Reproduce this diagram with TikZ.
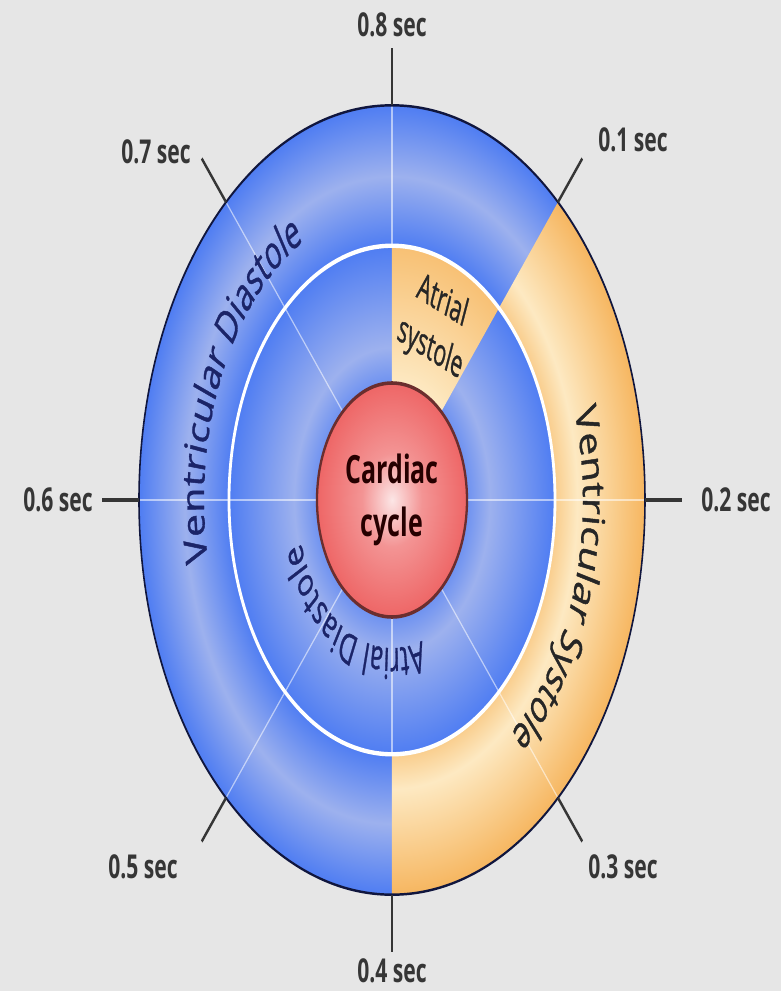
\documentclass[tikz,border=0pt]{standalone}
\usepackage{fontspec}
\setmainfont{Open Sans}
\newfontfamily\ringfam{Open Sans}[FakeStretch=0.86, FakeBold=1]
\usetikzlibrary{decorations.text}
\definecolor{cBlue}{HTML}{4F7DF2}
\definecolor{cBlueLight}{HTML}{9DB1EE}
\definecolor{cOrange}{HTML}{F6B660}
\definecolor{cOrangeLight}{HTML}{FDE9C2}
\definecolor{cRed}{HTML}{EE6666}
\definecolor{cRedLight}{HTML}{FCE6E6}
\definecolor{cNavy}{HTML}{1B2468}
\definecolor{cBg}{HTML}{E6E6E6}
\definecolor{cInk}{HTML}{363636}
\pgfdeclareradialshading{outerblue}{\pgfpointorigin}{color(0bp)=(cBlue); color(16.1bp)=(cBlue); color(20.5bp)=(cBlueLight); color(25bp)=(cBlue); color(50bp)=(cBlue)}
\pgfdeclareradialshading{outerorange}{\pgfpointorigin}{color(0bp)=(cOrange!55!cOrangeLight); color(16.1bp)=(cOrange!55!cOrangeLight); color(18.3bp)=(cOrangeLight); color(25bp)=(cOrange); color(50bp)=(cOrange)}
\pgfdeclareradialshading{innerblue}{\pgfpointorigin}{color(0bp)=(cBlue!60!cBlueLight); color(11.5bp)=(cBlue!60!cBlueLight); color(15bp)=(cBlueLight); color(25bp)=(cBlue); color(50bp)=(cBlue)}
\pgfdeclareradialshading{innerorange}{\pgfpointorigin}{color(0bp)=(cOrangeLight); color(11.5bp)=(cOrangeLight); color(25bp)=(cOrange!80!cOrangeLight); color(50bp)=(cOrange)}
\pgfdeclareradialshading{cardiac}{\pgfpointorigin}{color(0bp)=(cRedLight); color(10bp)=(cRed!70!white); color(25bp)=(cRed); color(50bp)=(cRed)}
\newcommand\ringfont{\ringfam\fontsize{17.5}{20}\selectfont}
\newcommand\atrfont{\ringfam\fontsize{15.5}{18}\selectfont}

\begin{document}
\begin{tikzpicture}[x=2cm, y=2cm,
    tick/.style={line width=1.2pt, cInk},
    divider/.style={white, opacity=0.55, line width=0.6pt},
    lbl/.style={font=\fontsize{12}{14}\selectfont\bfseries, text=cInk},
    hub/.style={circle, draw=cRed!45!black, line width=1.3pt, minimum size=3cm,
                shading=cardiac, align=center,
                font=\fontsize{14.2}{19.5}\selectfont\bfseries, text=black!85!red}]
  \fill[cBg] (-3.92,-4.91) rectangle (3.89,5.00);
  \begin{scope}[transform canvas={yscale=1.56}]
    % outer ring
    \shade[shading=outerblue] (0,0) circle (2.53);
    \begin{scope}
      \clip (0,0) -- (-90:2.6) arc[start angle=-90, end angle=49, radius=2.6] -- cycle;
      \shade[shading=outerorange] (0,0) circle (2.53);
    \end{scope}
    % inner ring
    \shade[shading=innerblue] (0,0) circle (1.63);
    \begin{scope}
      \clip (0,0) -- (49:1.7) arc[start angle=49, end angle=90, radius=1.7] -- cycle;
      \shade[shading=innerorange] (0,0) circle (1.63);
    \end{scope}
    \foreach \a in {0,131,180,229,311}
      \draw[divider] (\a:0.75) -- (\a:2.53);
    \draw[divider] (90:1.63) -- (90:2.53);
    \draw[divider] (270:0.75) -- (270:1.63);
    \draw[white, line width=1.6pt] (0,0) circle (1.63);
    \draw[cNavy!60!black, line width=0.9pt] (0,0) circle (2.53);

    \node[hub] (hub) at (0,0) {Cardiac\\cycle};

    % ticks and times
    \foreach \a in {90,49,0,311,270,229,180,131}
      \draw[tick] (\a:2.53) -- (\a:2.9);
    \node[lbl] (s8) at (0,3.045) {0.8 sec};
    \node[lbl] (s1) at (2.41,2.31) {0.1 sec};
    \node[lbl] (s2) at (3.44,0) {0.2 sec};
    \node[lbl] (s3) at (2.31,-2.35) {0.3 sec};
    \node[lbl] (s4) at (0,-3.02) {0.4 sec};
    \node[lbl] (s5) at (-2.49,-2.35) {0.5 sec};
    \node[lbl] (s6) at (-3.34,0) {0.6 sec};
    \node[lbl] (s7) at (-2.36,2.23) {0.7 sec};

    % ring texts
    \path[decorate, decoration={text along path, text align=center,
        text={|\ringfont\color{cNavy}|Ventricular Diastole}}]
      (210:1.88) arc[start angle=210, end angle=100, radius=1.88];
    \path[decorate, decoration={text along path, text align=center,
        text={|\ringfont\color{black!85}|Ventricular Systole}}]
      (40:1.91) arc[start angle=40, end angle=-74, radius=1.91];
    \path[decorate, decoration={text along path, text align=center,
        text={|\atrfont\color{cNavy}|Atrial Diastole}}]
      (310:0.95) arc[start angle=310, end angle=175, radius=0.95];
    \node[font=\ringfam\fontsize{14}{18.5}\selectfont, text=black!85, align=center,
          rotate=-22] (atrsys) at (0.44,1.115) {Atrial\\systole};
  \end{scope}
\end{tikzpicture}
\end{document}
